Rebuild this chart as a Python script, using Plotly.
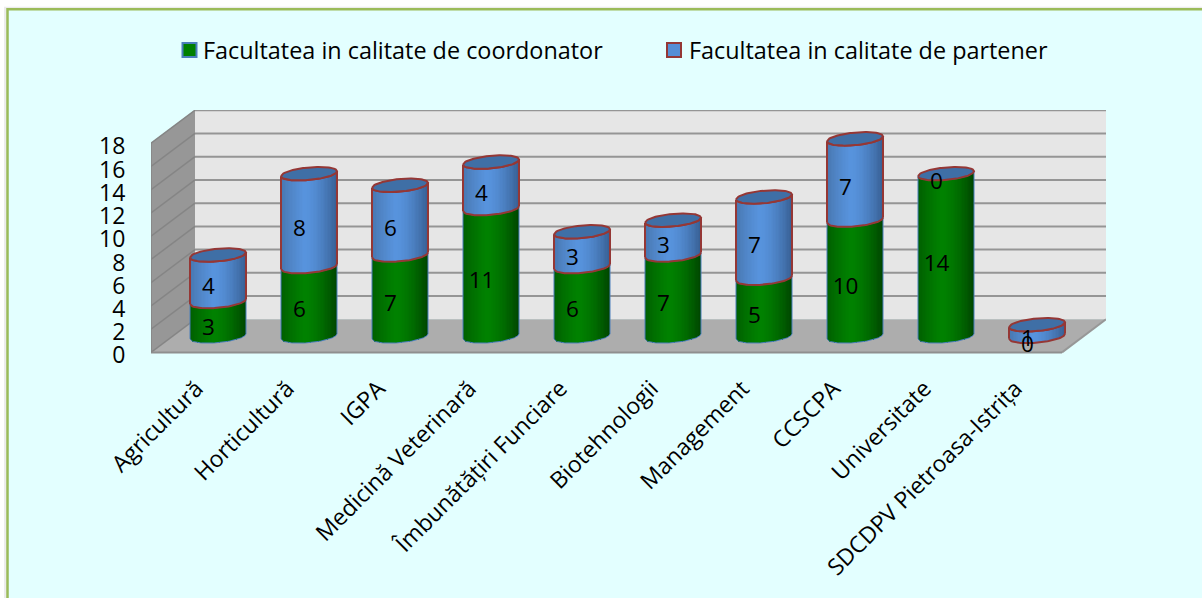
import math
import plotly.graph_objects as go

categories = ["Agricultură", "Horticultură", "IGPA", "Medicină Veterinară", "Îmbunătățiri Funciare",
              "Biotehnologii", "Management", "CCSCPA", "Universitate", "SDCDPV Pietroasa-Istrița"]
coordonator = [3, 6, 7, 11, 6, 7, 5, 10, 14, 0]
partener = [4, 8, 6, 4, 3, 3, 7, 7, 0, 1]
series_names = ["Facultatea in calitate de coordonator", "Facultatea in calitate de partener"]
y_ticks = list(range(0, 20, 2))

W, H = 1202, 598
PL, PR, PT, PB = 151, 1106, 110, 352     # box rectangle in px (PB = value 0)
SX, SY = 91.0, 11.6                      # px per category / per value
YLOW = -1                                # axis extends one unit under the floor for the "0" label
xmin = -0.5
xmax = xmin + (PR - PL) / SX
ymax = (PB - PT) / SY
PB2 = PB - YLOW * SY                     # real bottom of the plot area, px
DX, DY = 44, 33                          # depth of the 3D box, px
BAR_DX = 21.5 / SX                       # bars stand mid-depth
BASE = 16 / SY                           # value-0 height of the bars' centre
A = 28 / SX                              # ellipse half-width
B = 6.3 / SY                             # ellipse half-height
TILT = 2.5 / SY                          # ellipse tilt
N = 40
TICK_SHIFT = 3 / SY                      # the tick labels sit slightly under their gridline


def lerp(c1, c2, t):
    return tuple(c1[i] + (c2[i] - c1[i]) * t for i in range(3))


def shade(edgeL, mid, edgeR, t):
    p = 0.42
    c = lerp(edgeL, mid, (t / p) ** 0.7) if t < p else lerp(mid, edgeR, ((t - p) / (1 - p)) ** 1.6)
    return "rgb(%d,%d,%d)" % c


GREEN = ((0, 90, 0), (0, 130, 0), (0, 70, 0))
BLUE = ((70, 115, 170), (88, 148, 222), (56, 96, 148))
BLUE_CAP = "#3f6fa6"
RED = "#953735"
EDGE_BLUE = "#4a7ebb"
US = [-1 + 2 * k / 48 for k in range(49)]


def lower(v, u):
    return BASE + v - B * math.sqrt(max(0, 1 - u * u)) + TILT * u


def upper(v, u):
    return BASE + v + B * math.sqrt(max(0, 1 - u * u)) + TILT * u


def strips(start, vals, colors):
    xs, bases, hs, cols = [], [], [], []
    for i, v in enumerate(vals):
        if v == 0:
            continue
        cx = i + BAR_DX
        for k in range(N):
            t = (k + 0.5) / N
            u = 2 * t - 1
            xs.append(cx + u * A)
            b = lower(start[i], u)
            bases.append(b)
            hs.append(lower(start[i] + v, u) - b)
            cols.append(shade(*colors, t))
    return go.Bar(x=xs, y=hs, base=bases, width=2 * A / N * 1.6,
                  marker=dict(color=cols, line=dict(width=0)),
                  showlegend=False, hoverinfo="skip")


def seg_line(start, vals, color, width):
    xs, ys = [], []
    for i, v in enumerate(vals):
        if v == 0:
            continue
        cx = i + BAR_DX
        for level in (start[i], start[i] + v):
            xs += [cx + u * A for u in US] + [None]
            ys += [lower(level, u) for u in US] + [None]
        for u in (-1, 1):
            xs += [cx + u * A, cx + u * A, None]
            ys += [lower(start[i], u), lower(start[i] + v, u), None]
    return go.Scatter(x=xs, y=ys, mode="lines", line=dict(color=color, width=width),
                      showlegend=False, hoverinfo="skip")


def cap_trace(i, total):
    cx = i + BAR_DX
    xs = [cx + u * A for u in US] + [cx + u * A for u in reversed(US)]
    ys = [upper(total, u) for u in US] + [lower(total, u) for u in reversed(US)]
    return go.Scatter(x=xs, y=ys, mode="lines", fill="toself", fillcolor=BLUE_CAP,
                      line=dict(color=RED, width=2), showlegend=False, hoverinfo="skip")


def px2x(p):
    return xmin + (p - PL) / SX


def px2y(p):
    return (PB - p) / SY


def paperx(p):
    return (p - PL) / (PR - PL)


def papery(p):
    return (PB2 - p) / (PB2 - PT)


def poly(points, fill):
    d = "M " + " L ".join("%.4f,%.4f" % (px2x(a), px2y(b)) for a, b in points) + " Z"
    return dict(type="path", path=d, xref="x", yref="y", fillcolor=fill, layer="below",
                line=dict(color="rgba(0,0,0,0)", width=0))


def seg(a, b, color="#959595", width=2):
    return dict(type="line", xref="x", yref="y", x0=px2x(a[0]), y0=px2y(a[1]), x1=px2x(b[0]), y1=px2y(b[1]),
                line=dict(color=color, width=width), layer="below")


def swatch(x0, fill, edge):
    return dict(type="rect", xref="paper", yref="paper", x0=paperx(x0), x1=paperx(x0 + 14),
                y0=papery(43), y1=papery(57), fillcolor=fill, line=dict(color=edge, width=2), layer="above")


shapes = [
    dict(type="rect", xref="paper", yref="paper", x0=paperx(4), x1=paperx(1260), y0=papery(7), y1=papery(660),
         fillcolor="#ececec", line=dict(width=0), layer="below"),
    dict(type="rect", xref="paper", yref="paper", x0=paperx(7.5), x1=paperx(1260), y0=papery(9.5), y1=papery(660),
         fillcolor="#e3ffff", line=dict(color="#9bbb59", width=2.5), layer="below"),
    poly([(PL + DX, PB - DY), (PR, PB - DY), (PR, PT), (PL + DX, PT)], "#e6e6e6"),
    poly([(PL, PB), (PL + DX, PB - DY), (PL + DX, PT), (PL, PT + DY)], "#979797"),
    poly([(PL, PB), (PR - DX, PB), (PR, PB - DY), (PL + DX, PB - DY)], "#adadad"),
    swatch(182.5, "#008000", EDGE_BLUE),
    swatch(667, "#558ed5", RED),
]
for t in y_ticks:
    yb = PB - DY - t * SY
    shapes.append(seg((PL, PB - t * SY), (PL + DX, yb), "#858585", 1.5))
    if t > 0:
        shapes.append(seg((PL + DX, yb), (PR, yb)))
shapes.append(seg((PL, PB), (PR - DX, PB), "#8f8f8f", 2))
shapes.append(seg((PR - DX, PB), (PR, PB - DY), "#979797", 2))
shapes.append(seg((PL, PB), (PL, PT + DY), "#858585", 1.5))

fig = go.Figure()
zeros = [0] * len(categories)
totals = [a + b for a, b in zip(coordonator, partener)]
fig.add_trace(strips(zeros, coordonator, GREEN))
fig.add_trace(strips(coordonator, partener, BLUE))
fig.add_trace(seg_line(zeros, coordonator, EDGE_BLUE, 1))
fig.add_trace(seg_line(coordonator, partener, RED, 2))
for i, total in enumerate(totals):
    fig.add_trace(cap_trace(i, total))

# data labels
lab_x, lab_y, lab_t = [], [], []
for i in range(len(categories)):
    for start, v in ((0, coordonator[i]), (coordonator[i], partener[i])):
        lab_x.append(i + BAR_DX - 9.5 / SX)
        lab_y.append(BASE + start + v / 2 - 10 / SY)
        lab_t.append(str(v))
fig.add_trace(go.Scatter(x=lab_x, y=lab_y, text=lab_t, mode="text", textposition="middle center",
                         textfont=dict(size=22.5, color="black", family="Open Sans"),
                         showlegend=False, hoverinfo="skip"))

# legend entries (their keys are the two swatch shapes above)
fig.add_trace(go.Scatter(x=[None], y=[None], mode="markers", name=series_names[0], legend="legend",
                         marker=dict(symbol="square", size=14, color="rgba(0,0,0,0)")))
fig.add_trace(go.Scatter(x=[None], y=[None], mode="markers", name=series_names[1], legend="legend2",
                         marker=dict(symbol="square", size=14, color="rgba(0,0,0,0)")))

legend_style = dict(orientation="h", yanchor="top", xanchor="left", y=papery(28),
                    font=dict(size=23.4, family="Open Sans"), bgcolor="rgba(0,0,0,0)")
fig.update_layout(
    width=W, height=H, autosize=False,
    margin=dict(l=PL, r=W - PR, t=PT, b=H - PB2, pad=0),
    paper_bgcolor="white", plot_bgcolor="rgba(0,0,0,0)",
    barmode="overlay", bargap=0,
    font=dict(family="Open Sans", size=20, color="black"),
    shapes=shapes,
    xaxis=dict(range=[xmin, xmax], tickmode="array", tickvals=list(range(len(categories))), ticktext=categories,
               tickangle=-45, showgrid=False, zeroline=False, showline=False,
               ticks="outside", ticklen=1, tickcolor="rgba(0,0,0,0)", tickfont=dict(size=23, family="Open Sans")),
    yaxis=dict(range=[YLOW, ymax], tickmode="array", tickvals=[t - TICK_SHIFT for t in y_ticks],
               ticktext=[str(t) for t in y_ticks], showgrid=False, zeroline=False, showline=False,
               ticks="outside", ticklen=20, tickcolor="rgba(0,0,0,0)", tickfont=dict(size=23, family="Open Sans")),
    legend=dict(x=paperx(163), **legend_style),
    legend2=dict(x=paperx(649), **legend_style),
)
fig.write_html("out.html", config=dict(displayModeBar=False), post_script="document.body.style.margin='0';")
